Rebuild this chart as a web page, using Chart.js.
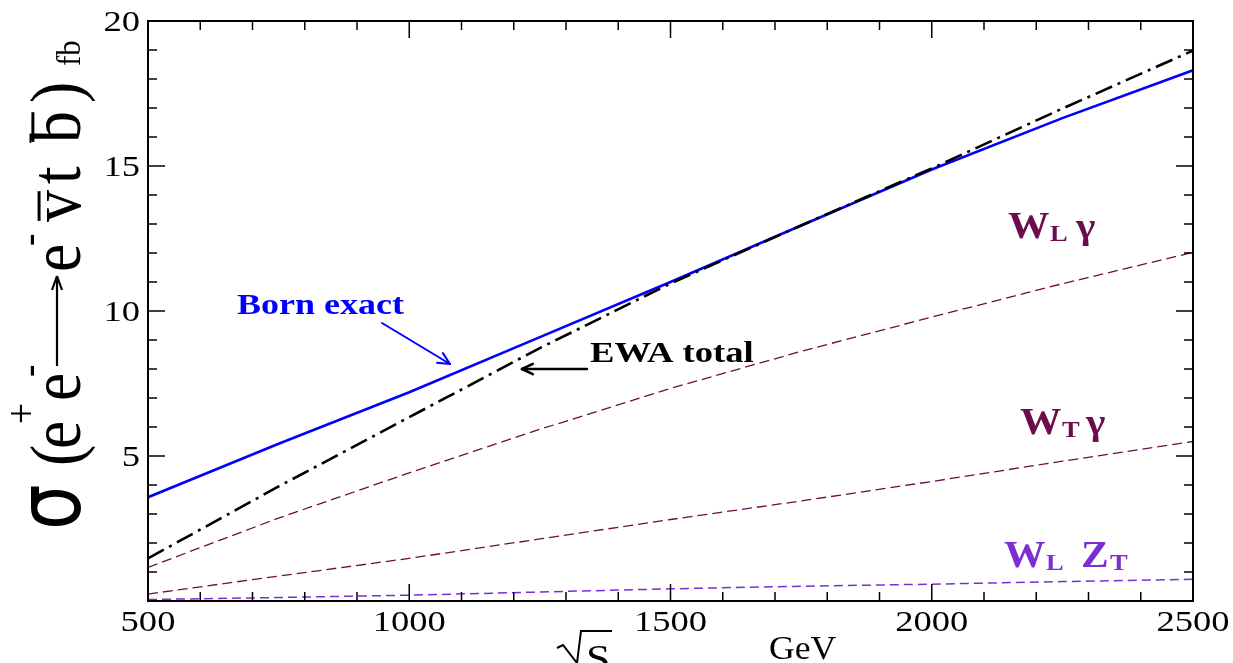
<!DOCTYPE html>
<html><head><meta charset="utf-8">
<script src="https://cdn.jsdelivr.net/npm/chart.js@4.4.1/dist/chart.umd.min.js"></script>
<style>html,body{margin:0;padding:0;background:#fff;overflow:hidden}#wrap{width:1233px;height:663px;position:relative}</style>
</head><body><div id="wrap"><canvas id="c" width="1233" height="663"></canvas></div>
<script>
// ---- data ----
const energies = [500, 750, 1000, 1250, 1500, 1750, 2000, 2250, 2500];
const bornExact = [3.58, 5.42, 7.20, 9.10, 11.00, 12.95, 14.88, 16.65, 18.30];
const ewaTotal  = [1.47, 3.95, 6.34, 8.72, 10.95, 12.95, 14.92, 16.98, 18.98];
const wLgamma   = [1.16, 2.86, 4.42, 5.92, 7.33, 8.61, 9.79, 10.94, 12.02];
const wTgamma   = [0.24, 0.86, 1.47, 2.14, 2.81, 3.45, 4.12, 4.82, 5.50];
const wLzT      = [0.05, 0.12, 0.20, 0.31, 0.42, 0.51, 0.58, 0.67, 0.75];
const xTickLabels = [500, 1000, 1500, 2000, 2500];
const yTickLabels = [5, 10, 15, 20];

const MAROON = '#6b0d4d', PURPLE = '#7b2fd0';
const pts = arr => energies.map((e, i) => ({x: e, y: arr[i]}));

function txt(ctx, s, x, y, font, color, align, sx) {
  ctx.save(); ctx.translate(x, y); ctx.scale(sx || 1, 1);
  ctx.font = font; ctx.fillStyle = color; ctx.textAlign = align || 'left';
  ctx.textBaseline = 'alphabetic'; ctx.fillText(s, 0, 0); ctx.restore();
}
function seg(ctx, x1, y1, x2, y2) { ctx.beginPath(); ctx.moveTo(x1, y1); ctx.lineTo(x2, y2); ctx.stroke(); }
function arrow(ctx, x1, y1, x2, y2, color, lw, head) {
  ctx.save(); ctx.strokeStyle = color; ctx.lineWidth = lw; ctx.lineCap = 'round';
  seg(ctx, x1, y1, x2, y2);
  const a = Math.atan2(y2 - y1, x2 - x1), s = 0.45;
  seg(ctx, x2, y2, x2 - head * Math.cos(a - s), y2 - head * Math.sin(a - s));
  seg(ctx, x2, y2, x2 - head * Math.cos(a + s), y2 - head * Math.sin(a + s));
  ctx.restore();
}

// rotated y-axis title; each piece placed at the screen y where it starts (text runs upward)
function yTitle(ctx) {
  const F = '58px "Liberation Serif"', S = '34px "Liberation Serif"';
  const BX = 80, SU = 1.1, SV = 1.24;
  const pieces = [
    {t: 'σ', f: '72px "DejaVu Sans"', y: 530, su: 1.0},
    {t: '(', f: F, y: 466},
    {t: 'e', f: F, y: 449},
    {t: '+', f: S, y: 424, v: -36},
    {t: 'e', f: F, y: 401},
    {t: '-', f: S, y: 377, v: -31},
    {t: 'e', f: F, y: 272},
    {t: '-', f: S, y: 246, v: -31},
    {t: 'v', f: F, y: 222, bar: -33},
    {t: 't', f: F, y: 184},
    {t: 'b', f: F, y: 143, bar: -38},
    {t: ')', f: F, y: 103},
    {t: 'fb', f: '28px "Liberation Serif"', y: 66}
  ];
  ctx.save();
  ctx.fillStyle = '#000'; ctx.strokeStyle = '#000'; ctx.textBaseline = 'alphabetic'; ctx.textAlign = 'left';
  pieces.forEach(p => {
    ctx.save(); ctx.translate(BX, p.y); ctx.rotate(-Math.PI / 2); ctx.scale(p.su || SU, SV);
    ctx.font = p.f; const w = ctx.measureText(p.t).width;
    ctx.fillText(p.t, 0, p.v || 0);
    if (p.bar) { ctx.lineWidth = 2.4; seg(ctx, 1, p.bar, w - 1, p.bar); }
    ctx.restore();
  });
  // long arrow (⟶) between the two halves of the reaction
  ctx.lineWidth = 2.2;
  seg(ctx, 57, 366, 57, 277);
  seg(ctx, 57, 276, 52, 290); seg(ctx, 57, 276, 62, 290);
  ctx.restore();
}

const deco = {
  id: 'deco',
  afterDatasetsDraw(chart) {
    const ctx = chart.ctx, xs = chart.scales.x, ys = chart.scales.y, a = chart.chartArea;
    ctx.save();
    ctx.strokeStyle = '#000'; ctx.lineWidth = 2;
    ctx.strokeRect(a.left, a.top, a.right - a.left, a.bottom - a.top);
    ctx.lineWidth = 1.5;
    for (let v = xs.min; v <= xs.max; v += 100) {
      const px = xs.getPixelForValue(v), L = v % 500 === 0 ? 17 : 9;
      seg(ctx, px, a.bottom, px, a.bottom - L); seg(ctx, px, a.top, px, a.top + L);
    }
    for (let v = ys.min; v <= ys.max; v += 1) {
      const py = ys.getPixelForValue(v), L = v % 5 === 0 ? 17 : 9;
      seg(ctx, a.left, py, a.left + L, py); seg(ctx, a.right, py, a.right - L, py);
    }
    const TF = '29px "Liberation Serif"';
    xTickLabels.forEach(v => txt(ctx, String(v), xs.getPixelForValue(v), 631, TF, '#000', 'center', 1.26));
    yTickLabels.forEach(v => txt(ctx, String(v), 140, ys.getPixelForValue(v) + 10, TF, '#000', 'right', 1.26));

    // axis titles
    yTitle(ctx);
    ctx.strokeStyle = '#000'; ctx.lineWidth = 2;
    ctx.beginPath(); ctx.moveTo(557, 648); ctx.lineTo(563, 645); ctx.lineTo(577, 663); ctx.lineTo(581, 631); ctx.lineTo(612, 631); ctx.stroke();
    txt(ctx, 'S', 586, 671, '38px "Liberation Serif"', '#000', 'left', 1.15);
    txt(ctx, 'GeV', 769, 659, '33px "Liberation Serif"', '#000', 'left', 1.08);

    // annotations
    txt(ctx, 'Born exact', 237, 314, 'bold 30px "Liberation Serif"', '#0000ff', 'left', 1.2);
    arrow(ctx, 382, 323, 450, 364, '#0000ff', 2, 13);
    txt(ctx, 'EWA total', 590, 362, 'bold 30px "Liberation Serif"', '#000', 'left', 1.22);
    arrow(ctx, 587, 369, 522, 369, '#000', 2.5, 12);

    const BF = 'bold 37px "Liberation Serif"', SF = 'bold 23px "Liberation Serif"', GF = 'bold 36px "Liberation Serif"';
    txt(ctx, 'W', 1008, 238, BF, MAROON, 'left', 1.12);
    txt(ctx, 'L', 1050, 241, SF, MAROON, 'left', 1.15);
    txt(ctx, 'γ', 1076, 238, GF, MAROON, 'left', 1.15);
    txt(ctx, 'W', 1020, 434, BF, MAROON, 'left', 1.12);
    txt(ctx, 'T', 1062, 437, SF, MAROON, 'left', 1.15);
    txt(ctx, 'γ', 1086, 434, GF, MAROON, 'left', 1.15);
    txt(ctx, 'W', 1004, 567, BF, PURPLE, 'left', 1.12);
    txt(ctx, 'L', 1046, 570, SF, PURPLE, 'left', 1.15);
    txt(ctx, 'Z', 1081, 567, BF, PURPLE, 'left', 1.12);
    txt(ctx, 'T', 1110, 570, SF, PURPLE, 'left', 1.15);
    ctx.restore();
  }
};

new Chart(document.getElementById('c'), {
  type: 'line',
  data: {
    datasets: [
      {label: 'EWA total', data: pts(ewaTotal), borderColor: '#000', borderWidth: 2.6, borderDash: [18, 6, 3, 6]},
      {label: 'Born exact', data: pts(bornExact), borderColor: '#0000ff', borderWidth: 2.6},
      {label: 'W_L γ', data: pts(wLgamma), borderColor: MAROON, borderWidth: 1.3, borderDash: [10, 5]},
      {label: 'W_T γ', data: pts(wTgamma), borderColor: MAROON, borderWidth: 1.3, borderDash: [10, 5]},
      {label: 'W_L Z_T', data: pts(wLzT), borderColor: PURPLE, borderWidth: 1.5, borderDash: [9, 5]}
    ]
  },
  options: {
    responsive: false, animation: false,
    layout: {padding: {left: 148, right: 40, top: 21, bottom: 62}},
    elements: {point: {radius: 0}, line: {tension: 0, fill: false}},
    plugins: {legend: {display: false}, tooltip: {enabled: false}},
    scales: {
      x: {type: 'linear', min: 500, max: 2500, display: false},
      y: {type: 'linear', min: 0, max: 20, display: false}
    }
  },
  plugins: [deco]
});
</script>
</body></html>
